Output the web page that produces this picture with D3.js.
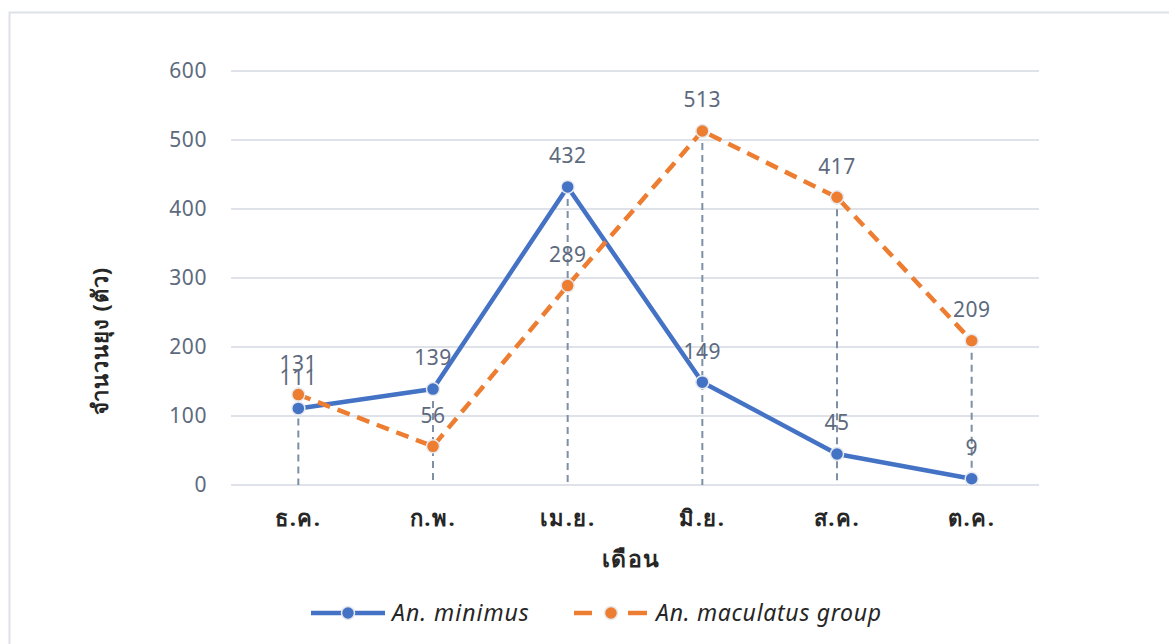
<!DOCTYPE html>
<html>
<head>
<meta charset="utf-8">
<script src="https://cdn.jsdelivr.net/npm/d3@7"></script>
<style>
  html, body { margin: 0; padding: 0; background: #fff; }
  svg { display: block; }
  text { font-family: "Noto Sans", "Open Sans", "DejaVu Sans", sans-serif; }
</style>
</head>
<body>
<svg id="chart" width="1169" height="644"></svg>
<script>
// Mosquito counts per survey month
const months = ["ธ.ค.", "ก.พ.", "เม.ย.", "มิ.ย.", "ส.ค.", "ต.ค."];
const minimus = [111, 139, 432, 149, 45, 9];
const maculatus = [131, 56, 289, 513, 417, 209];
const yTicks = [0, 100, 200, 300, 400, 500, 600];
const seriesNames = ["An. minimus", "An. maculatus group"];

const blue = "#4472C4", orange = "#ED7D31";
const labelColor = "#5d6a7e";

const svg = d3.select("#chart");

// chart frame
svg.append("rect")
  .attr("x", 9.5).attr("y", 12.5)
  .attr("width", 1180).attr("height", 660)
  .attr("fill", "none").attr("stroke", "#dde1e7").attr("stroke-width", 2);

const x = d3.scaleBand().domain(months).range([231, 1039]);
const y = d3.scaleLinear().domain([0, 600]).range([485, 71]);
const cx = m => x(m) + x.bandwidth() / 2;

// horizontal gridlines
svg.append("g").selectAll("line").data(yTicks).join("line")
  .attr("x1", 231).attr("x2", 1039)
  .attr("y1", d => y(d)).attr("y2", d => y(d))
  .attr("stroke", "#dfe3e9").attr("stroke-width", 2);

// y-axis tick labels
svg.append("g").selectAll("text").data(yTicks).join("text")
  .attr("x", 207).attr("y", d => y(d))
  .attr("dy", "0.35em").attr("text-anchor", "end")
  .attr("font-size", 21).attr("letter-spacing", 0.6).attr("fill", labelColor)
  .text(d => d);

// drop lines from the higher value down to zero
svg.append("g").selectAll("line").data(months).join("line")
  .attr("x1", d => cx(d)).attr("x2", d => cx(d))
  .attr("y1", (d, i) => y(Math.max(minimus[i], maculatus[i])))
  .attr("y2", y(0))
  .attr("stroke", "#7f8fa6").attr("stroke-width", 2)
  .attr("stroke-dasharray", "7,5");

// category labels
svg.append("g").selectAll("text").data(months).join("text")
  .attr("x", d => cx(d)).attr("y", 526)
  .attr("text-anchor", "middle")
  .attr("font-size", 22).attr("font-weight", "bold").attr("letter-spacing", 1.5)
  .attr("fill", "#262626")
  .text(d => d);

// axis titles
svg.append("text")
  .attr("x", 631).attr("y", 567).attr("text-anchor", "middle")
  .attr("font-size", 23).attr("font-weight", "bold").attr("letter-spacing", 1.5)
  .attr("fill", "#262626")
  .text("เดือน");
svg.append("text")
  .attr("transform", "translate(108,341) rotate(-90)")
  .attr("text-anchor", "middle")
  .attr("font-size", 22).attr("font-weight", "bold").attr("letter-spacing", 1)
  .attr("fill", "#262626")
  .text("จำนวนยุง (ตัว)");

const line = d3.line().x((d, i) => cx(months[i])).y(d => y(d));

function drawSeries(vals, color, dash) {
  const g = svg.append("g");
  g.append("path").datum(vals)
    .attr("d", line).attr("fill", "none")
    .attr("stroke", color).attr("stroke-width", 4.5)
    .attr("stroke-linejoin", "round")
    .attr("stroke-dasharray", dash);
  g.selectAll("circle").data(vals).join("circle")
    .attr("cx", (d, i) => cx(months[i])).attr("cy", d => y(d))
    .attr("r", 6.5).attr("fill", color)
    .attr("stroke", "#e6e9ee").attr("stroke-width", 1.5);
  return g;
}
drawSeries(minimus, blue, null);
drawSeries(maculatus, orange, "13,8");

// value labels
function drawLabels(vals) {
  svg.append("g").selectAll("text").data(vals).join("text")
    .attr("x", (d, i) => cx(months[i])).attr("y", d => y(d) - 31)
    .attr("dy", "0.35em").attr("text-anchor", "middle")
    .attr("font-size", 21).attr("letter-spacing", 0.5).attr("fill", labelColor)
    .text(d => d);
}
drawLabels(minimus);
drawLabels(maculatus);

// legend
const lg = svg.append("g");
const ly = 613;
lg.append("line").attr("x1", 311).attr("x2", 385).attr("y1", ly).attr("y2", ly)
  .attr("stroke", blue).attr("stroke-width", 4.5);
lg.append("circle").attr("cx", 348).attr("cy", ly).attr("r", 6.5)
  .attr("fill", blue).attr("stroke", "#e6e9ee").attr("stroke-width", 1.5);
lg.append("text").attr("x", 392).attr("y", ly).attr("dy", "0.35em")
  .attr("font-size", 23).attr("font-style", "italic").attr("letter-spacing", 1)
  .attr("fill", "#262626")
  .text(seriesNames[0]);
[[574, 592], [628, 647]].forEach(([a, b]) => {
  lg.append("line").attr("x1", a).attr("x2", b).attr("y1", ly).attr("y2", ly)
    .attr("stroke", orange).attr("stroke-width", 4.5);
});
lg.append("circle").attr("cx", 611).attr("cy", ly).attr("r", 6.5)
  .attr("fill", orange).attr("stroke", "#e6e9ee").attr("stroke-width", 1.5);
lg.append("text").attr("x", 656).attr("y", ly).attr("dy", "0.35em")
  .attr("font-size", 23).attr("font-style", "italic").attr("letter-spacing", 0.7)
  .attr("fill", "#262626")
  .text(seriesNames[1]);
</script>
</body>
</html>
